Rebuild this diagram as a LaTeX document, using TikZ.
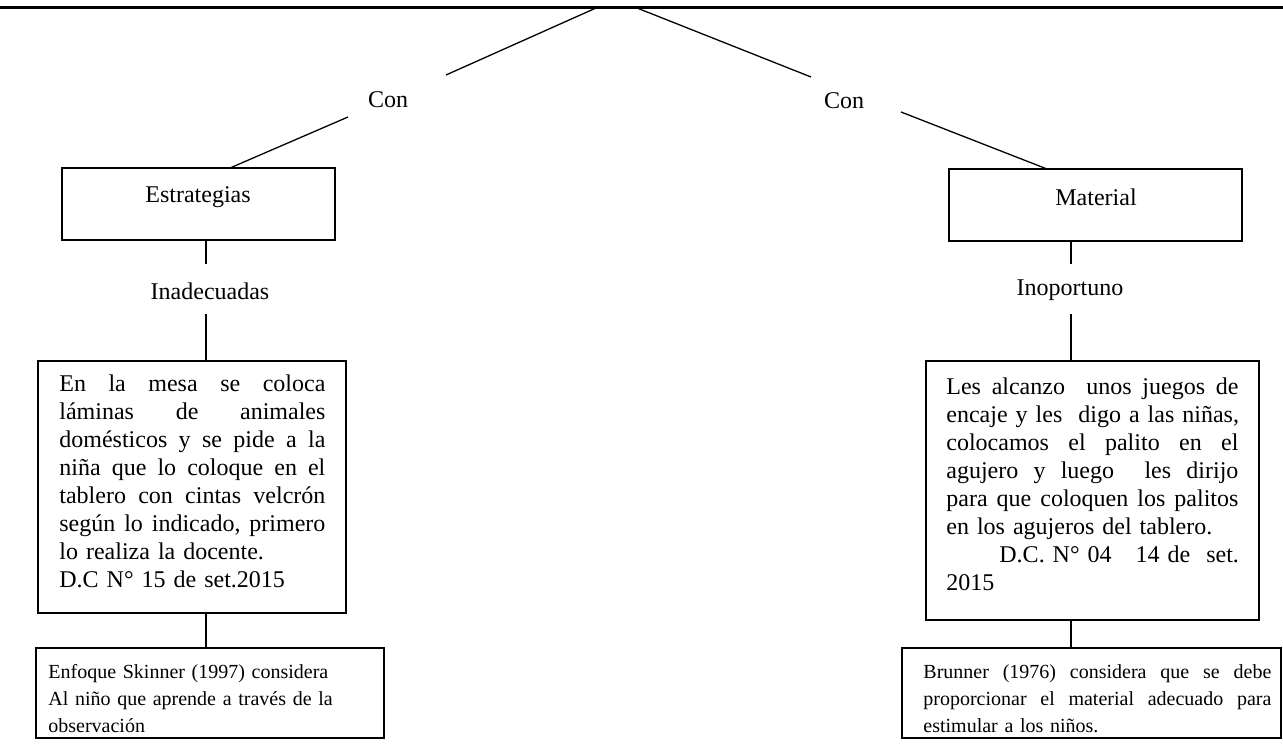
\documentclass[tikz,border=0pt]{standalone}
\usepackage{fontspec}
\setmainfont{Liberation Serif}
\usetikzlibrary{fit}
\newcommand{\jla}[1]{\leavevmode\hbox to 133pt{#1}}
\newcommand{\jlb}[1]{\leavevmode\hbox to 146pt{#1}}
\newcommand{\jlc}[1]{\leavevmode\hbox to 174pt{#1}}
\newcommand{\js}{\ \hfill}
\begin{document}
\begin{tikzpicture}[x=0.5pt,y=-0.5pt,
  boxf/.style={draw, line width=1pt, inner sep=0pt},
  conn/.style={line width=0.65pt},
  lbl/.style={font=\fontsize{12}{14}\selectfont, inner sep=0pt},
  bodytxt/.style={font=\fontsize{12}{14}\selectfont, inner sep=0pt, anchor=north west, align=left},
  smalltxt/.style={font=\fontsize{10}{13.5}\selectfont, inner sep=0pt, anchor=north west, align=left}]
\useasboundingbox (0,0) rectangle (1283,748);
% top edge
\coordinate (topL) at (0,8);
\coordinate (topR) at (1283,8);
\draw[line width=1.5pt] (topL) -- (topR);
% labels
\node[lbl] (con1) at (388,100) {Con};
\node[lbl] (con2) at (844,101) {Con};
% boxes
\node[boxf, fit={(62,168) (335,240)}] (estr) {};
\node[lbl] (estrT) at (198,197) {Estrategias};
\node[boxf, fit={(949,169) (1242,241)}] (mat) {};
\node[lbl] (matT) at (1096,197) {Material};
\node[lbl] (inad) at (210,291) {Inadecuadas};
\node[lbl] (inop) at (1070,290) {Inoportuno};
\node[boxf, fit={(38,361) (346,613)}] (b2) {};
\node[bodytxt, text width=133pt] (b2T) at (59,371) {%
\strut\jla{En\js la\js mesa\js se\js coloca}\\
\jla{láminas\js de\js animales}\\
\jla{domésticos\js y\js se\js pide\js a\js la}\\
\jla{niña\js que\js lo\js coloque\js en\js el}\\
\jla{tablero\js con\js cintas\js velcrón}\\
\jla{según\js lo\js indicado,\js primero}\\
lo realiza la docente.\\
D.C N° 15 de set.2015};
\node[boxf, fit={(926,361) (1259,620)}] (b4) {};
\node[bodytxt, text width=146pt] (b4T) at (946,374) {%
\strut\jlb{Les\js alcanzo\js\js unos\js juegos\js de}\\
\jlb{encaje\js y\js les\js\js digo\js a\js las\js niñas,}\\
\jlb{colocamos\js el\js palito\js en\js el}\\
\jlb{agujero\js y\js luego\js\js les\js dirijo}\\
\jlb{para\js que\js coloquen\js los\js palitos}\\
en los agujeros del tablero.\\
\jlb{\hspace*{26.5pt}D.C.\js N°\js 04\js\js\js 14\js de\js\js set.}\\
2015};
\node[boxf, fit={(36,648) (384,738)}] (b3) {};
\node[smalltxt, text width=165pt] (b3T) at (48,659) {%
\strut Enfoque Skinner (1997) considera\\
Al niño que aprende a través de la\\
observación};
\node[boxf, fit={(902,648) (1281,738)}] (b5) {};
\node[smalltxt, text width=174pt] (b5T) at (923,659) {%
\strut\jlc{Brunner\js (1976)\js considera\js que\js se\js debe}\\
\jlc{proporcionar\js el\js material\js adecuado\js para}\\
estimular a los niños.};
% connectors
\coordinate (p1) at (596,8);
\coordinate (p1e) at (446,75);
\coordinate (p2) at (637,8);
\coordinate (p2e) at (811,77);
\draw[conn] (p1) -- (p1e);
\draw[conn] (p2) -- (p2e);
\coordinate (q1) at (348,117);
\coordinate (q1e) at (230,168);
\coordinate (q2) at (901,112);
\coordinate (q2e) at (1047,169);
\draw[conn] (q1) -- (q1e);
\draw[conn] (q2) -- (q2e);
\coordinate (colL) at (206,0);
\coordinate (colR) at (1071,0);
\coordinate (vL1) at (206,264);
\coordinate (vL2) at (206,314);
\coordinate (vR1) at (1071,264);
\coordinate (vR2) at (1071,314);
\draw[conn] (estr.south -| colL) -- (vL1);
\draw[conn] (vL2) -- (b2.north -| colL);
\draw[conn] (b2.south -| colL) -- (b3.north -| colL);
\draw[conn] (mat.south -| colR) -- (vR1);
\draw[conn] (vR2) -- (b4.north -| colR);
\draw[conn] (b4.south -| colR) -- (b5.north -| colR);
\end{tikzpicture}
\end{document}
